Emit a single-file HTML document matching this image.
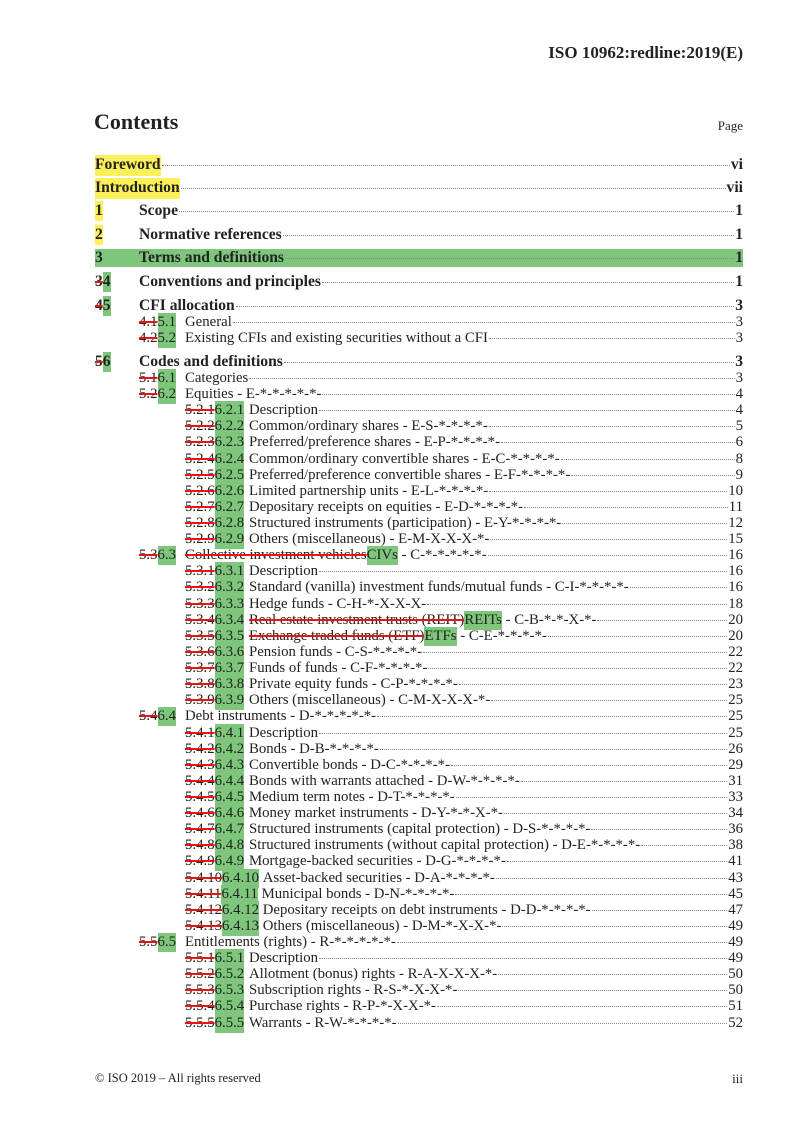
<!DOCTYPE html>
<html><head><meta charset="utf-8"><style>
body{margin:0;background:#fff;}
#pg{position:relative;width:793px;height:1122px;overflow:hidden;font-family:"Liberation Serif",serif;color:#222;}
.a{position:absolute;white-space:nowrap;}
.r{position:absolute;right:50px;height:18px;line-height:18px;display:flex;align-items:baseline;white-space:nowrap;font-size:14.8px;}
.b{font-weight:bold;font-size:15.6px;}
.n{display:inline-block;flex:none;}
.d{flex:1;border-bottom:1px dotted #888;margin:0 1px;height:0;position:relative;top:-3px;}
.p{flex:none;}
.y{background:#fcf05a;padding:1px 0 2px;}
.g{background:#7dc67b;padding:1px 0 2px;}
.r.g{padding:0;}
s{text-decoration:line-through;text-decoration-color:#e11;text-decoration-thickness:2px;}
.l1{left:95px}.l1 .n{min-width:44px}
.l2{left:139px}.l2 .n{min-width:46px}
.l3{left:185px}.l3 .n{min-width:64px}
</style></head><body><div id="pg">
<div class="a" style="right:50px;top:43px;font-weight:bold;font-size:17px;">ISO 10962:redline:2019(E)</div>
<div class="a" style="left:94px;top:109px;font-weight:bold;font-size:22px;">Contents</div>
<div class="a" style="right:50px;top:118px;font-size:13px;">Page</div>

<div class="r b" style="left:95px;top:155px;"><span class="y">Foreword</span><span class="d"></span><span class="p">vi</span></div>
<div class="r b" style="left:95px;top:178px;"><span class="y">Introduction</span><span class="d"></span><span class="p">vii</span></div>
<div class="r b l1" style="top:202px;"><span class="n"><span class="y">1</span></span><span>Scope</span><span class="d"></span><span class="p">1</span></div>
<div class="r b l1" style="top:226px;"><span class="n"><span class="y">2</span></span><span>Normative references</span><span class="d"></span><span class="p">1</span></div>
<div class="r b l1 g" style="top:249px;"><span class="n">3</span><span>Terms and definitions</span><span class="d"></span><span class="p">1</span></div>
<div class="r b l1" style="top:273px;"><span class="n"><s>3</s><span class="g">4</span></span><span>Conventions and principles</span><span class="d"></span><span class="p">1</span></div>
<div class="r b l1" style="top:297px;"><span class="n"><s>4</s><span class="g">5</span></span><span>CFI allocation</span><span class="d"></span><span class="p">3</span></div>
<div class="r l2" style="top:313px;"><span class="n"><s>4.1</s><span class="g">5.1</span></span><span>General</span><span class="d"></span><span class="p">3</span></div>
<div class="r l2" style="top:329px;"><span class="n"><s>4.2</s><span class="g">5.2</span></span><span>Existing CFIs and existing securities without a CFI</span><span class="d"></span><span class="p">3</span></div>
<div class="r b l1" style="top:353px;"><span class="n"><s>5</s><span class="g">6</span></span><span>Codes and definitions</span><span class="d"></span><span class="p">3</span></div>

<div class="r l2" style="top:369px;"><span class="n"><s>5.1</s><span class="g">6.1</span></span><span>Categories</span><span class="d"></span><span class="p">3</span></div>
<div class="r l2" style="top:385px;"><span class="n"><s>5.2</s><span class="g">6.2</span></span><span>Equities - E-*-*-*-*-*-</span><span class="d"></span><span class="p">4</span></div>
<div class="r l3" style="top:401px;"><span class="n"><s>5.2.1</s><span class="g">6.2.1</span></span><span>Description</span><span class="d"></span><span class="p">4</span></div>
<div class="r l3" style="top:417px;"><span class="n"><s>5.2.2</s><span class="g">6.2.2</span></span><span>Common/ordinary shares - E-S-*-*-*-*-</span><span class="d"></span><span class="p">5</span></div>
<div class="r l3" style="top:433px;"><span class="n"><s>5.2.3</s><span class="g">6.2.3</span></span><span>Preferred/preference shares - E-P-*-*-*-*-</span><span class="d"></span><span class="p">6</span></div>
<div class="r l3" style="top:450px;"><span class="n"><s>5.2.4</s><span class="g">6.2.4</span></span><span>Common/ordinary convertible shares - E-C-*-*-*-*-</span><span class="d"></span><span class="p">8</span></div>
<div class="r l3" style="top:466px;"><span class="n"><s>5.2.5</s><span class="g">6.2.5</span></span><span>Preferred/preference convertible shares - E-F-*-*-*-*-</span><span class="d"></span><span class="p">9</span></div>
<div class="r l3" style="top:482px;"><span class="n"><s>5.2.6</s><span class="g">6.2.6</span></span><span>Limited partnership units - E-L-*-*-*-*-</span><span class="d"></span><span class="p">10</span></div>
<div class="r l3" style="top:498px;"><span class="n"><s>5.2.7</s><span class="g">6.2.7</span></span><span>Depositary receipts on equities - E-D-*-*-*-*-</span><span class="d"></span><span class="p">11</span></div>
<div class="r l3" style="top:514px;"><span class="n"><s>5.2.8</s><span class="g">6.2.8</span></span><span>Structured instruments (participation) - E-Y-*-*-*-*-</span><span class="d"></span><span class="p">12</span></div>
<div class="r l3" style="top:530px;"><span class="n"><s>5.2.9</s><span class="g">6.2.9</span></span><span>Others (miscellaneous) - E-M-X-X-X-*-</span><span class="d"></span><span class="p">15</span></div>
<div class="r l2" style="top:546px;"><span class="n"><s>5.3</s><span class="g">6.3</span></span><span><s>Collective investment vehicles</s><span class="g">CIVs</span> - C-*-*-*-*-*-</span><span class="d"></span><span class="p">16</span></div>
<div class="r l3" style="top:562px;"><span class="n"><s>5.3.1</s><span class="g">6.3.1</span></span><span>Description</span><span class="d"></span><span class="p">16</span></div>
<div class="r l3" style="top:578px;"><span class="n"><s>5.3.2</s><span class="g">6.3.2</span></span><span>Standard (vanilla) investment funds/mutual funds - C-I-*-*-*-*-</span><span class="d"></span><span class="p">16</span></div>
<div class="r l3" style="top:595px;"><span class="n"><s>5.3.3</s><span class="g">6.3.3</span></span><span>Hedge funds - C-H-*-X-X-X-</span><span class="d"></span><span class="p">18</span></div>
<div class="r l3" style="top:611px;"><span class="n"><s>5.3.4</s><span class="g">6.3.4</span></span><span><s>Real estate investment trusts (REIT)</s><span class="g">REITs</span> - C-B-*-*-X-*-</span><span class="d"></span><span class="p">20</span></div>
<div class="r l3" style="top:627px;"><span class="n"><s>5.3.5</s><span class="g">6.3.5</span></span><span><s>Exchange traded funds (ETF)</s><span class="g">ETFs</span> - C-E-*-*-*-*-</span><span class="d"></span><span class="p">20</span></div>
<div class="r l3" style="top:643px;"><span class="n"><s>5.3.6</s><span class="g">6.3.6</span></span><span>Pension funds - C-S-*-*-*-*-</span><span class="d"></span><span class="p">22</span></div>
<div class="r l3" style="top:659px;"><span class="n"><s>5.3.7</s><span class="g">6.3.7</span></span><span>Funds of funds - C-F-*-*-*-*-</span><span class="d"></span><span class="p">22</span></div>
<div class="r l3" style="top:675px;"><span class="n"><s>5.3.8</s><span class="g">6.3.8</span></span><span>Private equity funds - C-P-*-*-*-*-</span><span class="d"></span><span class="p">23</span></div>
<div class="r l3" style="top:691px;"><span class="n"><s>5.3.9</s><span class="g">6.3.9</span></span><span>Others (miscellaneous) - C-M-X-X-X-*-</span><span class="d"></span><span class="p">25</span></div>
<div class="r l2" style="top:707px;"><span class="n"><s>5.4</s><span class="g">6.4</span></span><span>Debt instruments - D-*-*-*-*-*-</span><span class="d"></span><span class="p">25</span></div>
<div class="r l3" style="top:724px;"><span class="n"><s>5.4.1</s><span class="g">6.4.1</span></span><span>Description</span><span class="d"></span><span class="p">25</span></div>
<div class="r l3" style="top:740px;"><span class="n"><s>5.4.2</s><span class="g">6.4.2</span></span><span>Bonds - D-B-*-*-*-*-</span><span class="d"></span><span class="p">26</span></div>
<div class="r l3" style="top:756px;"><span class="n"><s>5.4.3</s><span class="g">6.4.3</span></span><span>Convertible bonds - D-C-*-*-*-*-</span><span class="d"></span><span class="p">29</span></div>
<div class="r l3" style="top:772px;"><span class="n"><s>5.4.4</s><span class="g">6.4.4</span></span><span>Bonds with warrants attached - D-W-*-*-*-*-</span><span class="d"></span><span class="p">31</span></div>
<div class="r l3" style="top:788px;"><span class="n"><s>5.4.5</s><span class="g">6.4.5</span></span><span>Medium term notes - D-T-*-*-*-*-</span><span class="d"></span><span class="p">33</span></div>
<div class="r l3" style="top:804px;"><span class="n"><s>5.4.6</s><span class="g">6.4.6</span></span><span>Money market instruments - D-Y-*-*-X-*-</span><span class="d"></span><span class="p">34</span></div>
<div class="r l3" style="top:820px;"><span class="n"><s>5.4.7</s><span class="g">6.4.7</span></span><span>Structured instruments (capital protection) - D-S-*-*-*-*-</span><span class="d"></span><span class="p">36</span></div>
<div class="r l3" style="top:836px;"><span class="n"><s>5.4.8</s><span class="g">6.4.8</span></span><span>Structured instruments (without capital protection) - D-E-*-*-*-*-</span><span class="d"></span><span class="p">38</span></div>
<div class="r l3" style="top:852px;"><span class="n"><s>5.4.9</s><span class="g">6.4.9</span></span><span>Mortgage-backed securities - D-G-*-*-*-*-</span><span class="d"></span><span class="p">41</span></div>
<div class="r l3" style="top:869px;"><span class="n"><s>5.4.10</s><span class="g">6.4.10</span></span><span>&nbsp;Asset-backed securities - D-A-*-*-*-*-</span><span class="d"></span><span class="p">43</span></div>
<div class="r l3" style="top:885px;"><span class="n"><s>5.4.11</s><span class="g">6.4.11</span></span><span>&nbsp;Municipal bonds - D-N-*-*-*-*-</span><span class="d"></span><span class="p">45</span></div>
<div class="r l3" style="top:901px;"><span class="n"><s>5.4.12</s><span class="g">6.4.12</span></span><span>&nbsp;Depositary receipts on debt instruments - D-D-*-*-*-*-</span><span class="d"></span><span class="p">47</span></div>
<div class="r l3" style="top:917px;"><span class="n"><s>5.4.13</s><span class="g">6.4.13</span></span><span>&nbsp;Others (miscellaneous) - D-M-*-X-X-*-</span><span class="d"></span><span class="p">49</span></div>
<div class="r l2" style="top:933px;"><span class="n"><s>5.5</s><span class="g">6.5</span></span><span>Entitlements (rights) - R-*-*-*-*-*-</span><span class="d"></span><span class="p">49</span></div>
<div class="r l3" style="top:949px;"><span class="n"><s>5.5.1</s><span class="g">6.5.1</span></span><span>Description</span><span class="d"></span><span class="p">49</span></div>
<div class="r l3" style="top:965px;"><span class="n"><s>5.5.2</s><span class="g">6.5.2</span></span><span>Allotment (bonus) rights - R-A-X-X-X-*-</span><span class="d"></span><span class="p">50</span></div>
<div class="r l3" style="top:981px;"><span class="n"><s>5.5.3</s><span class="g">6.5.3</span></span><span>Subscription rights - R-S-*-X-X-*-</span><span class="d"></span><span class="p">50</span></div>
<div class="r l3" style="top:997px;"><span class="n"><s>5.5.4</s><span class="g">6.5.4</span></span><span>Purchase rights - R-P-*-X-X-*-</span><span class="d"></span><span class="p">51</span></div>
<div class="r l3" style="top:1014px;"><span class="n"><s>5.5.5</s><span class="g">6.5.5</span></span><span>Warrants - R-W-*-*-*-*-</span><span class="d"></span><span class="p">52</span></div>

<div class="a" style="left:95px;top:1071px;font-size:12.5px;">© ISO 2019 – All rights reserved</div>
<div class="a" style="right:50px;top:1071px;font-size:13px;">iii</div>
</div></body></html>
